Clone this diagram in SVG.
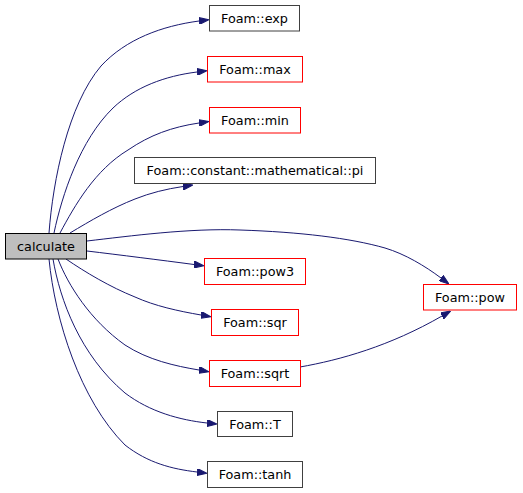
<svg xmlns="http://www.w3.org/2000/svg" width="523" height="493" viewBox="0 0 523 493">
<style>
.n rect{fill:#ffffff;stroke:#404040;stroke-width:1}
.n.r rect{stroke:#ff0000}
.n.c rect{fill:#bfbfbf;stroke:#000000}
.n text{font-family:"DejaVu Sans",sans-serif;font-size:12.8px;fill:#000;text-anchor:middle}
.e path{fill:none;stroke:#191970;stroke-width:1;marker-end:url(#a)}
</style>
<defs>
<marker id="a" viewBox="0 0 10 7" refX="0" refY="3.5" markerWidth="10" markerHeight="7" markerUnits="userSpaceOnUse" orient="auto">
<path d="M0,0 L10,3.5 L0,7 z" fill="#191970" stroke="#191970"/>
</marker>
</defs>
<rect width="523" height="493" fill="#ffffff"/>
<g id="edges" class="e">
<path d="M49,233 C53,180 68,105 101,66 C126,39 162,26 199,21"/>
<path d="M54,233 C62,195 80,140 113,108 C135,87 165,76 197,72"/>
<path d="M60,233 C75,205 95,170 128,150 C150,135 172,127 199,123"/>
<path d="M70,233 C90,221 112,208 135,199 C150,193 166,189 183,186.5"/>
<path d="M87,241 C130,236 190,228 240,230 C300,232 350,238 385,248 C405,254 425,266 441,278"/>
<path d="M87,251 C120,255 160,260 194,264.5"/>
<path d="M66,259 C85,272 110,287 135,297 C155,306 178,311 201,315"/>
<path d="M58,259 C68,285 90,320 125,345 C148,360 175,366 199,370"/>
<path d="M53,259 C60,300 80,355 125,393 C150,412 180,420 207,423"/>
<path d="M49,259 C55,320 80,400 125,445 C148,463 172,469 197,472"/>
<path d="M300,367 C340,360 390,346 442,316"/>
</g>
<g id="calculate" class="n c"><rect x="5.5" y="233.5" width="81" height="25.5"/><text x="46" y="250.5">calculate</text></g>
<g id="exp" class="n"><rect x="209.5" y="5.5" width="90" height="25.5"/><text x="254.5" y="22.5">Foam::exp</text></g>
<g id="max" class="n r"><rect x="207.5" y="56.5" width="95" height="25.5"/><text x="255" y="73.5">Foam::max</text></g>
<g id="min" class="n r"><rect x="209.5" y="107.5" width="91" height="25.5"/><text x="255" y="124.5">Foam::min</text></g>
<g id="pi" class="n"><rect x="134.5" y="157.5" width="241" height="26"/><text x="255" y="175">Foam::constant::mathematical::pi</text></g>
<g id="pow3" class="n r"><rect x="204.5" y="258.5" width="101" height="26"/><text x="255" y="276">Foam::pow3</text></g>
<g id="pow" class="n r"><rect x="423.5" y="284.5" width="93" height="25.5"/><text x="470" y="301.5">Foam::pow</text></g>
<g id="sqr" class="n r"><rect x="211.5" y="309.5" width="87" height="26"/><text x="255" y="327">Foam::sqr</text></g>
<g id="sqrt" class="n r"><rect x="209.5" y="360.5" width="91" height="26"/><text x="255" y="378">Foam::sqrt</text></g>
<g id="T" class="n"><rect x="217.5" y="411.5" width="75" height="25"/><text x="255" y="428.5">Foam::T</text></g>
<g id="tanh" class="n"><rect x="207.5" y="461.5" width="95" height="26"/><text x="255" y="479">Foam::tanh</text></g>
</svg>
